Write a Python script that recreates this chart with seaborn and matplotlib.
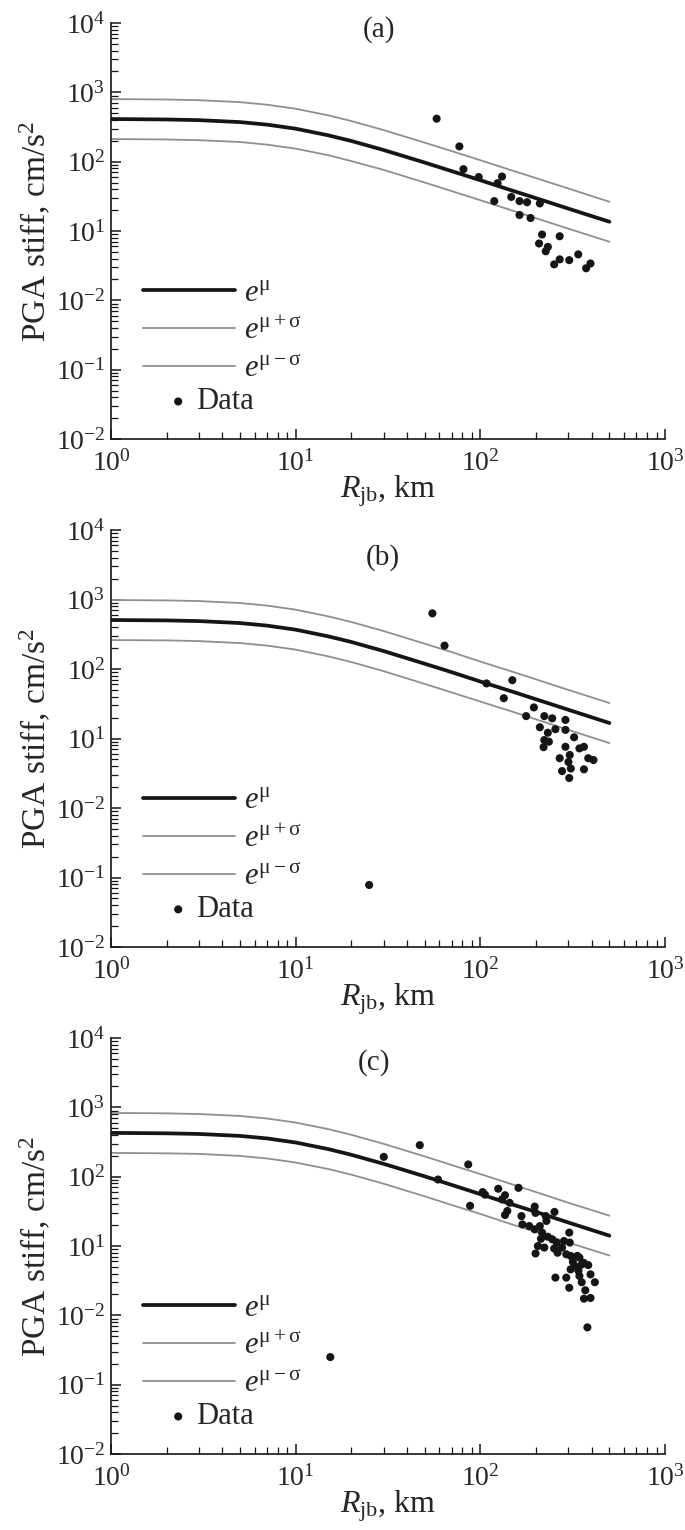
import matplotlib
matplotlib.use('AGG')
import matplotlib.pyplot as plt
from matplotlib.ticker import FixedLocator, FixedFormatter, NullFormatter
import seaborn as sns

sns.set_style('ticks')
plt.rcParams['font.family'] = ['Liberation Serif', 'DejaVu Serif']
plt.rcParams['mathtext.fontset'] = 'custom'
plt.rcParams['mathtext.rm'] = 'Liberation Serif'
plt.rcParams['mathtext.it'] = 'Liberation Serif:italic'
plt.rcParams['mathtext.bf'] = 'Liberation Serif:bold'

# model curves
R_CURVE = [1, 2, 3, 5, 7, 10, 15, 20, 30, 50, 70, 100, 150, 200, 300, 500]

MEAN_A = [412, 406, 397, 372, 342, 299, 240, 199, 147, 97, 73, 54, 38, 29.8, 21, 13.6]
UPPER_A = [800, 788, 770, 722, 663, 580, 466, 386, 285, 188, 142, 105, 74, 58, 41, 26.4]
LOWER_A = [212, 209, 204, 192, 176, 154, 124, 102, 76, 50, 37.6, 27.8, 19.6, 15.3, 10.8, 7.0]

MEAN_B = [507, 500, 489, 458, 421, 368, 295, 245, 181, 119, 90, 66, 47, 36.7, 25.9, 16.7]
UPPER_B = [984, 970, 949, 889, 817, 714, 572, 475, 351, 231, 175, 128, 91, 71, 50, 32.4]
LOWER_B = [261, 258, 252, 236, 217, 190, 152, 126, 93, 61, 46, 34, 24.2, 18.9, 13.3, 8.6]

MEAN_C = [428, 422, 413, 387, 356, 311, 250, 207, 153, 101, 76, 56, 39.5, 31, 21.8, 14.1]
UPPER_C = [830, 819, 801, 751, 690, 603, 485, 402, 297, 196, 147, 109, 77, 60, 42, 27.4]
LOWER_C = [220, 217, 213, 199, 183, 160, 129, 107, 79, 52, 39, 29, 20.3, 16, 11.2, 7.3]

# recordings
R_A = [58, 77, 81, 98, 131, 124, 119, 147, 163, 179, 210, 163, 187, 216, 269, 208,
       232, 226, 251, 269, 303, 339, 374, 395]
PGA_A = [417, 166, 78, 60, 61, 49, 27, 31, 27, 26, 25, 17, 15.4, 8.9, 8.4, 6.6,
         5.9, 5.1, 3.3, 3.9, 3.8, 4.6, 2.9, 3.4]

R_B = [25, 55, 64, 108, 134, 149, 177, 195, 222, 245, 289, 210, 232, 255, 289, 322,
       222, 235, 220, 289, 344, 364, 269, 305, 384, 410, 300, 277, 309, 364, 303]
PGA_B = [0.078, 632, 217, 62, 38, 69, 21, 28, 21, 19.5, 18.5, 14.5, 12.1, 13.6, 13.3, 10.4,
         9.5, 9.0, 7.5, 7.6, 7.2, 7.6, 5.2, 5.8, 5.2, 4.9, 4.6, 3.4, 3.7, 3.6, 2.7]

R_C = [15.4, 30, 47, 86, 59, 88, 103, 106, 125, 136, 131, 144, 161, 140, 136, 197,
       199, 226, 252, 167, 169, 184, 197, 210, 228, 216, 232, 213, 245, 259, 284, 303,
       305, 205, 222, 251, 277, 199, 262, 308, 344, 326, 364, 292, 335, 317, 354, 384,
       308, 340, 395, 255, 292, 344, 417, 303, 354, 370, 364, 395, 380]
PGA_C = [0.25, 193, 285, 150, 91, 38, 60, 55, 67, 54, 47, 42, 69, 32, 28, 37,
         30, 27, 31, 27, 20.5, 19.4, 17.4, 19.4, 23, 15.6, 13.6, 12.7, 12.5, 11.2, 11.8, 15.6,
         11.2, 10, 9.5, 9.2, 9.5, 7.8, 8.0, 7.2, 6.8, 5.1, 5.7, 7.6, 7.2, 5.9, 5.4, 5.3,
         4.6, 4.4, 3.9, 3.5, 3.5, 3.7, 3.0, 2.5, 3.0, 2.3, 1.74, 1.78, 0.67]

X_TICKS = [1, 10, 100, 1000]
X_LABELS = [r'$10^{0}$', r'$10^{1}$', r'$10^{2}$', r'$10^{3}$']
Y_TICKS = [1e4, 1e3, 1e2, 1e1, 1e0, 1e-1, 1e-2]
Y_LABELS = [r'$10^{4}$', r'$10^{3}$', r'$10^{2}$', r'$10^{1}$', r'$10^{-2}$', r'$10^{-1}$', r'$10^{-2}$']

W, H = 685, 1530


def minor_ticks(lo, hi):
    out = []
    d = lo
    while d < hi:
        out += [k * d for k in range(2, 10)]
        d *= 10
    return out


def draw_panel(ax, mean, upper, lower, r_data, pga_data, tag, tag_xy):
    sns.lineplot(x=R_CURVE, y=mean, ax=ax, color='#151515', lw=2.7, sort=False,
                 label=r'$e^{\mathrm{\mu}}$')
    sns.lineplot(x=R_CURVE, y=upper, ax=ax, color='#8f8f8f', lw=1.3, sort=False,
                 label=r'$e^{\mathrm{\mu + \sigma}}$')
    sns.lineplot(x=R_CURVE, y=lower, ax=ax, color='#8f8f8f', lw=1.3, sort=False,
                 label=r'$e^{\mathrm{\mu - \sigma}}$')
    sns.scatterplot(x=r_data, y=pga_data, ax=ax, color='#151515', s=34,
                    edgecolor='none', label='Data', zorder=5, clip_on=False)

    ax.set_xscale('log')
    ax.set_yscale('log')
    ax.set_xlim(1, 1000)
    ax.set_ylim(1e-2, 1e4)

    ax.xaxis.set_major_locator(FixedLocator(X_TICKS))
    ax.xaxis.set_major_formatter(FixedFormatter(X_LABELS))
    ax.xaxis.set_minor_locator(FixedLocator(minor_ticks(1, 1000)))
    ax.xaxis.set_minor_formatter(NullFormatter())
    ax.yaxis.set_major_locator(FixedLocator(Y_TICKS))
    ax.yaxis.set_major_formatter(FixedFormatter(Y_LABELS))
    ax.yaxis.set_minor_locator(FixedLocator(minor_ticks(1e-2, 1e4)))
    ax.yaxis.set_minor_formatter(NullFormatter())

    ax.tick_params(which='major', direction='in', length=7.5, width=1.1,
                   labelsize=20, color='#151515')
    ax.tick_params(axis='y', which='major', pad=4)
    ax.tick_params(axis='x', which='major', pad=8)
    ax.tick_params(which='minor', direction='in', length=5, width=0.9, color='#151515')
    sns.despine(ax=ax)
    for s in ['left', 'bottom']:
        ax.spines[s].set_linewidth(1.2)
        ax.spines[s].set_color('#151515')

    ax.set_xlabel(r'$R_{\mathrm{jb}}$, km', fontsize=23, labelpad=-2)
    ax.set_ylabel(r'PGA stiff, cm/s$^{2}$', fontsize=24, labelpad=2)
    ax.text(tag_xy[0], tag_xy[1], tag, transform=ax.transAxes, ha='center', va='center',
            fontsize=21)

    handles, labels = ax.get_legend_handles_labels()
    leg1 = ax.legend(handles[:3], labels[:3], loc='upper left', bbox_to_anchor=(0.058, 0.385),
                     frameon=False, handlelength=3.0, handletextpad=0.3, labelspacing=0.3,
                     borderpad=0, borderaxespad=0, fontsize=22)
    ax.add_artist(leg1)
    ax.legend(handles[3:], labels[3:], loc='center left', bbox_to_anchor=(0.102, 0.089),
              frameon=False, handlelength=0.7, handletextpad=0.25, borderpad=0,
              borderaxespad=0, fontsize=22)


fig = plt.figure(figsize=(W / 100, H / 100), dpi=100)

left = 111 / W
width = 554 / W
panels = [
    (439, 416, MEAN_A, UPPER_A, LOWER_A, R_A, PGA_A, '(a)', (0.484, 0.985)),
    (947, 417, MEAN_B, UPPER_B, LOWER_B, R_B, PGA_B, '(b)', (0.49, 0.935)),
    (1454, 416, MEAN_C, UPPER_C, LOWER_C, R_C, PGA_C, '(c)', (0.475, 0.942)),
]
for bottom_px, h_px, mean, upper, lower, r_data, pga_data, tag, tag_xy in panels:
    ax = fig.add_axes([left, 1 - bottom_px / H, width, h_px / H])
    draw_panel(ax, mean, upper, lower, r_data, pga_data, tag, tag_xy)

fig.savefig('out.png', dpi=100)
